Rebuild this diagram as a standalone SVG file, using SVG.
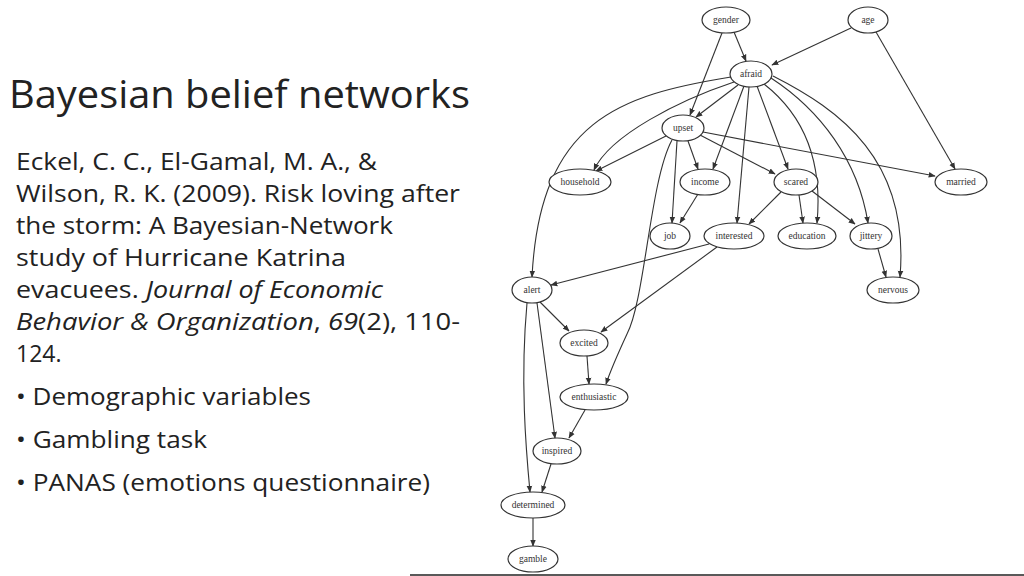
<svg xmlns="http://www.w3.org/2000/svg" width="1024" height="576" viewBox="0 0 1024 576">
<style>
.t{font-family:"Open Sans","Noto Sans",sans-serif;fill:#222}
.b{font-size:23px}
ellipse{fill:#fff;stroke:#333;stroke-width:1.2}
.n{font-family:"Liberation Serif",serif;font-size:9.5px;fill:#333;text-anchor:middle}
#edges path{fill:none;stroke:#333;stroke-width:1.1;marker-end:url(#a)}
</style>
<defs><marker id="a" viewBox="0 0 10 10" refX="9" refY="5" markerWidth="7" markerHeight="7" orient="auto" markerUnits="userSpaceOnUse"><path d="M0,1L10,5L0,9z" fill="#333"/></marker></defs>
<rect width="1024" height="576" fill="#fff"/>
<text class="t" x="9" y="108" font-size="38" textLength="461" lengthAdjust="spacingAndGlyphs">Bayesian belief networks</text>
<g class="t b">
<text x="16" y="170" textLength="361" lengthAdjust="spacingAndGlyphs">Eckel, C. C., El-Gamal, M. A., &amp;</text>
<text x="16" y="202" textLength="444" lengthAdjust="spacingAndGlyphs">Wilson, R. K. (2009). Risk loving after</text>
<text x="16" y="234" textLength="377" lengthAdjust="spacingAndGlyphs">the storm: A Bayesian-Network</text>
<text x="16" y="266" textLength="330" lengthAdjust="spacingAndGlyphs">study of Hurricane Katrina</text>
<text x="16" y="298" textLength="367" lengthAdjust="spacingAndGlyphs">evacuees. <tspan font-style="italic">Journal of Economic</tspan></text>
<text x="16" y="330" textLength="444" lengthAdjust="spacingAndGlyphs"><tspan font-style="italic">Behavior &amp; Organization</tspan>, <tspan font-style="italic">69</tspan>(2), 110-</text>
<text x="16" y="362">124.</text>
<text x="16" y="405" textLength="295" lengthAdjust="spacingAndGlyphs">• Demographic variables</text>
<text x="16" y="448" textLength="191" lengthAdjust="spacingAndGlyphs">• Gambling task</text>
<text x="16" y="491" textLength="414" lengthAdjust="spacingAndGlyphs">• PANAS (emotions questionnaire)</text>
</g>
<line x1="410" y1="575" x2="1024" y2="575" stroke="#222" stroke-width="1.5"/>
<g id="edges">
<path d="M734,32L746,61"/>
<path d="M722,33L690,115"/>
<path d="M851,28L772,65"/>
<path d="M876,32L955,169"/>
<path d="M731,77C620,95 540,120 532,277"/>
<path d="M734,82C680,100 610,135 594,170"/>
<path d="M738,85L696,117"/>
<path d="M744,86L713,169"/>
<path d="M749,87L737,223"/>
<path d="M757,86L788,169"/>
<path d="M764,84C810,120 822,170 817,223"/>
<path d="M771,78C820,110 858,160 868,223"/>
<path d="M773,76C840,110 910,160 900,277"/>
<path d="M666,136L596,171"/>
<path d="M677,141L672,223"/>
<path d="M688,141L698,169"/>
<path d="M700,135L775,174"/>
<path d="M703,132L935,176"/>
<path d="M672,140C650,180 645,300 627,334 615,360 609,375 606,384"/>
<path d="M698,194L680,223"/>
<path d="M781,192L749,224"/>
<path d="M799,195L803,223"/>
<path d="M812,191L855,224"/>
<path d="M878,249L886,277"/>
<path d="M709,244L551,285"/>
<path d="M717,247L601,332"/>
<path d="M540,302L569,331"/>
<path d="M537,303L555,438"/>
<path d="M527,303C520,380 526,450 530,492"/>
<path d="M587,356L589,384"/>
<path d="M585,410L569,438"/>
<path d="M551,464L542,492"/>
<path d="M533,518L533,546"/>
</g>
<g id="gender"><ellipse cx="726" cy="20" rx="24" ry="13"/><text class="n" x="726" y="23">gender</text></g>
<g id="age"><ellipse cx="868" cy="20" rx="20" ry="13"/><text class="n" x="868" y="23">age</text></g>
<g id="afraid"><ellipse cx="751" cy="74" rx="21" ry="13"/><text class="n" x="751" y="77">afraid</text></g>
<g id="upset"><ellipse cx="683" cy="128" rx="21" ry="13"/><text class="n" x="683" y="131">upset</text></g>
<g id="household"><ellipse cx="580" cy="182" rx="31" ry="13"/><text class="n" x="580" y="185">household</text></g>
<g id="income"><ellipse cx="705" cy="182" rx="25" ry="13"/><text class="n" x="705" y="185">income</text></g>
<g id="scared"><ellipse cx="796" cy="182" rx="22" ry="13"/><text class="n" x="796" y="185">scared</text></g>
<g id="married"><ellipse cx="961" cy="182" rx="26" ry="13"/><text class="n" x="961" y="185">married</text></g>
<g id="job"><ellipse cx="670" cy="236" rx="20" ry="13"/><text class="n" x="670" y="239">job</text></g>
<g id="interested"><ellipse cx="734" cy="236" rx="30" ry="13"/><text class="n" x="734" y="239">interested</text></g>
<g id="education"><ellipse cx="807" cy="236" rx="29" ry="13"/><text class="n" x="807" y="239">education</text></g>
<g id="jittery"><ellipse cx="871" cy="236" rx="21" ry="13"/><text class="n" x="871" y="239">jittery</text></g>
<g id="alert"><ellipse cx="532" cy="290" rx="20" ry="13"/><text class="n" x="532" y="293">alert</text></g>
<g id="nervous"><ellipse cx="893" cy="290" rx="26" ry="13"/><text class="n" x="893" y="293">nervous</text></g>
<g id="excited"><ellipse cx="584" cy="343" rx="24" ry="13"/><text class="n" x="584" y="346">excited</text></g>
<g id="enthusiastic"><ellipse cx="594" cy="397" rx="34" ry="13"/><text class="n" x="594" y="400">enthusiastic</text></g>
<g id="inspired"><ellipse cx="557" cy="451" rx="24" ry="13"/><text class="n" x="557" y="454">inspired</text></g>
<g id="determined"><ellipse cx="533" cy="505" rx="32" ry="13"/><text class="n" x="533" y="508">determined</text></g>
<g id="gamble"><ellipse cx="533" cy="559" rx="25" ry="13"/><text class="n" x="533" y="562">gamble</text></g>
</svg>
